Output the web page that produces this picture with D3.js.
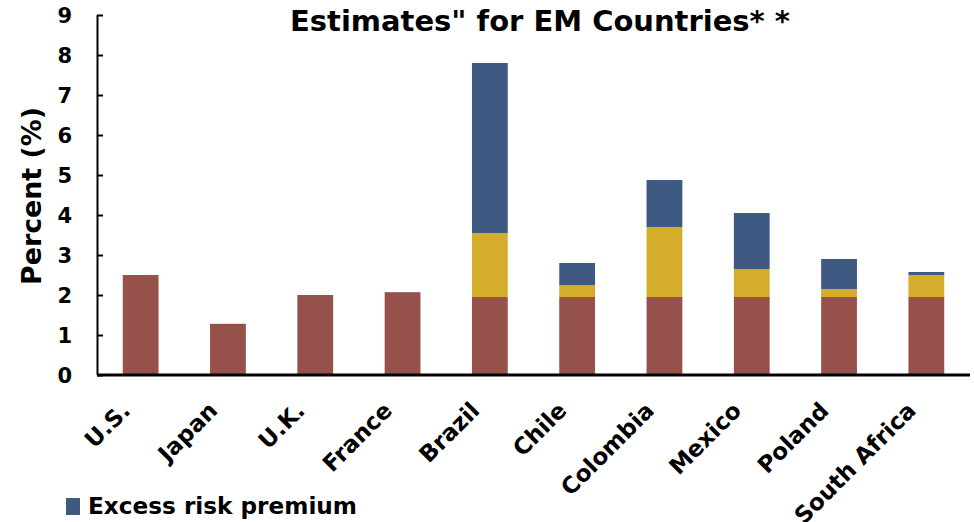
<!DOCTYPE html>
<html>
<head>
<meta charset="utf-8">
<script src="https://cdn.jsdelivr.net/npm/d3@7"></script>
<style>
  html, body { margin: 0; padding: 0; background: #fff; }
  svg { display: block; font-family: "DejaVu Sans", Verdana, sans-serif; font-weight: bold; }
</style>
</head>
<body>
<svg id="chart" width="974" height="522"></svg>
<script>
// Country categories
const countries = ["U.S.", "Japan", "U.K.", "France", "Brazil", "Chile", "Colombia", "Mexico", "Poland", "South Africa"];
// Stacked components (percent)
const basePremium   = [2.5, 1.28, 2.0, 2.07, 1.95, 1.95, 1.95, 1.95, 1.95, 1.95];
const countryRisk   = [0, 0, 0, 0, 1.6, 0.3, 1.75, 0.7, 0.2, 0.55];
const excessRisk    = [0, 0, 0, 0, 4.25, 0.55, 1.175, 1.4, 0.75, 0.075];
const yTicks = [0, 1, 2, 3, 4, 5, 6, 7, 8, 9];

const seriesKeys = ["base", "country", "excess"];
const colors = { base: "#95514A", country: "#D4AE2B", excess: "#3E5982" };

const table = countries.map((c, i) => ({ name: c, base: basePremium[i], country: countryRisk[i], excess: excessRisk[i] }));

const svg = d3.select("#chart");
const plotLeft = 97, plotRight = 970, plotTop = 15, plotBottom = 375;

const x = d3.scaleBand().domain(countries).range([plotLeft, plotRight]).paddingInner(0.59).paddingOuter(0.295);
const y = d3.scaleLinear().domain([0, 9]).range([plotBottom, plotTop]);

const stacked = d3.stack().keys(seriesKeys)(table);

svg.append("g").selectAll("g").data(stacked).join("g")
  .attr("fill", d => colors[d.key])
  .selectAll("rect").data(d => d).join("rect")
  .attr("x", d => x(d.data.name))
  .attr("width", x.bandwidth())
  .attr("y", d => y(d[1]))
  .attr("height", d => Math.max(0, y(d[0]) - y(d[1])));

// Y axis with inward ticks
const yAxis = svg.append("g").attr("transform", `translate(${plotLeft},0)`)
  .call(d3.axisRight(y).tickValues(yTicks).tickSize(6).tickFormat(d3.format("d")));
yAxis.select(".domain").attr("stroke", "#000").attr("stroke-width", 2).attr("d", `M0.5,${plotTop}V${plotBottom}`);
yAxis.selectAll(".tick line").attr("stroke", "#000").attr("stroke-width", 2);
yAxis.selectAll(".tick text")
  .attr("x", -25).attr("text-anchor", "end").attr("dy", "0.36em")
  .attr("font-size", 21).attr("font-weight", "bold").attr("font-family", "DejaVu Sans, sans-serif")
  .attr("fill", "#000");

// X axis baseline and rotated labels
const xAxis = svg.append("g").attr("transform", `translate(0,${plotBottom})`)
  .call(d3.axisBottom(x).tickSize(0).tickSizeOuter(0));
xAxis.select(".domain").attr("stroke", "#000").attr("stroke-width", 3).attr("d", `M${plotLeft},0H${plotRight}`);
xAxis.selectAll(".tick text")
  .attr("font-size", 23).attr("font-weight", "bold").attr("font-family", "DejaVu Sans, sans-serif")
  .attr("fill", "#000").attr("text-anchor", "end")
  .attr("transform", "translate(-9,37) rotate(-45)")
  .attr("x", 0).attr("y", 0).attr("dy", "0");

// Y axis title
svg.append("text")
  .attr("transform", "translate(41,196) rotate(-90)")
  .attr("text-anchor", "middle")
  .attr("font-size", 27)
  .attr("textLength", 178).attr("lengthAdjust", "spacingAndGlyphs")
  .text("Percent (%)");

// Chart title
svg.append("text")
  .attr("x", 540).attr("y", 31)
  .attr("text-anchor", "middle")
  .attr("font-size", 28)
  .attr("textLength", 500).attr("lengthAdjust", "spacingAndGlyphs")
  .text("Estimates\" for EM Countries* *");

// Legend
const legend = svg.append("g").attr("transform", "translate(66,498)");
legend.append("rect").attr("width", 14).attr("height", 17).attr("fill", colors.excess);
legend.append("text").attr("x", 22).attr("y", 16).attr("font-size", 23)
  .attr("textLength", 269).attr("lengthAdjust", "spacingAndGlyphs")
  .text("Excess risk premium");
</script>
</body>
</html>
